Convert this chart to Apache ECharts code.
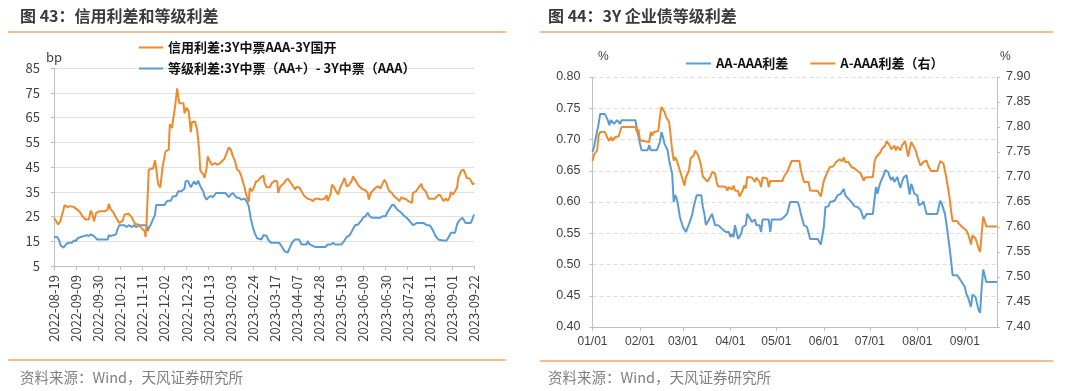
<!DOCTYPE html>
<html>
<head>
<meta charset="utf-8">
<script src="https://cdn.jsdelivr.net/npm/echarts@6/dist/echarts.min.js"></script>
<style>
html,body{margin:0;padding:0;background:#fff;}
#c{width:1080px;height:391px;}
</style>
</head>
<body>
<div id="c"></div>
<script>
// ---------- Chart 43 (left): daily categories from 2022-08-19 to 2023-09-22 ----------
const leftStart = '2022-08-19';
const leftDayCount = 400;
const leftYTicks = {min: 5, max: 85, step: 10};
const creditName = '信用利差:3Y中票AAA-3Y国开';
const gradeName = '等级利差:3Y中票（AA+）- 3Y中票（AAA）';
// [day offset from 2022-08-19, bp]
const creditSpread = [[0,24.5],[4,21.8],[6,23.1],[9,27.8],[10,29.6],[13,28.8],[15,29.2],[19,28.8],[24,27.1],[27,25.1],[30,23.8],[33,23.8],[35,27.4],[36,26.5],[38,23.1],[40,26.5],[43,27.1],[48,27.1],[51,27.8],[52,30.1],[54,27.8],[56,26.9],[59,24.5],[62,22.4],[65,23.1],[67,25.8],[71,26.1],[74,24.5],[77,22.0],[80,21.8],[83,20.4],[86,19.1],[87,16.7],[88,23.1],[90,43.9],[92,44.3],[94,44.3],[96,47.7],[97,44.6],[99,37.9],[101,36.8],[103,44.6],[105,49.3],[106,51.3],[109,52.0],[110,62.3],[112,60.7],[113,60.4],[115,69.4],[117,76.8],[119,70.8],[120,71.2],[123,70.8],[124,66.7],[126,69.0],[128,67.4],[130,59.1],[131,63.1],[134,63.4],[136,60.0],[138,51.3],[139,43.5],[142,41.9],[143,40.6],[145,44.6],[146,49.3],[148,47.3],[150,45.9],[153,46.6],[155,45.9],[158,46.6],[162,48.4],[164,50.6],[166,52.9],[168,52.0],[170,49.3],[172,47.3],[174,43.9],[176,43.3],[178,41.2],[181,36.8],[183,33.2],[185,30.9],[186,36.5],[188,35.2],[190,36.8],[192,39.2],[194,39.5],[196,40.6],[199,41.6],[200,38.6],[202,36.8],[205,36.8],[207,38.6],[210,39.5],[212,39.2],[213,34.5],[215,37.2],[218,38.2],[220,39.5],[222,40.3],[224,39.2],[226,37.9],[229,35.9],[230,36.8],[233,36.8],[236,34.5],[238,33.2],[241,32.2],[244,31.8],[246,31.2],[248,32.2],[251,32.2],[254,31.8],[257,32.2],[259,33.6],[260,31.2],[263,34.5],[264,37.9],[266,36.8],[268,35.2],[270,33.9],[272,36.8],[274,38.6],[276,40.6],[278,37.2],[280,37.6],[283,39.5],[284,41.2],[287,39.2],[289,37.6],[292,36.3],[294,35.9],[296,35.5],[298,34.5],[299,31.8],[301,34.5],[303,35.5],[306,36.8],[308,37.2],[310,36.3],[312,38.2],[314,39.9],[316,38.2],[318,35.5],[321,34.5],[323,33.2],[326,32.2],[328,31.2],[330,32.8],[332,32.2],[334,32.2],[336,31.4],[338,30.9],[340,30.5],[341,34.5],[344,35.2],[346,36.5],[349,38.2],[350,36.5],[353,35.2],[356,32.2],[359,32.2],[362,32.2],[364,33.2],[366,33.9],[368,32.8],[370,31.2],[372,32.2],[374,31.4],[376,32.8],[377,34.9],[379,33.9],[381,35.2],[383,36.8],[384,40.6],[387,43.5],[389,43.9],[391,41.9],[392,40.6],[395,40.3],[396,39.5],[398,37.9],[399,38.6]];
const gradeSpread = [[0,16.7],[3,16.7],[5,15.3],[6,13.5],[9,12.4],[10,11.7],[12,14.0],[14,14.4],[17,14.4],[19,15.3],[21,15.1],[22,16.1],[25,16.7],[29,17.1],[31,17.5],[33,17.1],[35,17.8],[38,17.1],[41,15.7],[46,15.7],[51,15.7],[52,17.5],[54,17.1],[57,17.5],[59,17.8],[60,19.4],[62,21.5],[65,21.5],[67,21.5],[69,20.7],[71,21.5],[74,20.7],[76,21.5],[78,20.7],[81,21.5],[86,21.5],[88,21.5],[89,19.1],[90,20.4],[92,21.8],[94,23.8],[96,25.8],[97,29.6],[100,29.6],[105,29.6],[106,30.5],[108,31.4],[111,31.4],[113,33.2],[116,33.2],[118,35.2],[121,35.2],[124,36.3],[125,39.2],[127,39.5],[128,39.5],[130,36.8],[131,36.8],[133,39.2],[135,37.9],[137,39.5],[139,37.2],[142,34.9],[143,33.2],[145,31.8],[147,32.8],[149,33.2],[151,32.8],[154,34.5],[157,34.5],[160,34.5],[163,34.5],[166,32.8],[168,33.9],[170,34.5],[173,32.8],[176,32.5],[178,31.8],[181,32.2],[183,31.2],[185,29.2],[187,24.0],[189,20.5],[191,18.0],[193,16.2],[197,15.7],[199,17.5],[202,17.1],[204,15.3],[206,14.4],[210,14.4],[214,14.4],[216,13.1],[219,11.0],[222,10.4],[224,12.4],[226,14.4],[229,15.7],[233,15.7],[235,13.7],[240,13.7],[241,15.1],[243,13.7],[248,12.7],[251,12.7],[254,12.7],[258,12.7],[260,13.7],[263,13.7],[265,14.4],[267,13.7],[271,13.7],[273,13.7],[276,15.3],[278,16.7],[281,17.5],[283,19.1],[286,21.5],[289,21.8],[292,23.4],[294,24.7],[296,25.1],[298,26.5],[300,25.1],[302,24.5],[307,24.5],[310,24.5],[312,25.1],[315,25.1],[317,26.9],[319,28.2],[321,29.6],[323,29.6],[326,27.8],[327,27.1],[330,26.5],[332,25.5],[335,24.5],[338,23.1],[341,21.5],[345,22.4],[348,22.4],[351,22.4],[354,21.5],[357,21.5],[360,19.4],[362,17.5],[365,15.7],[369,15.3],[373,15.3],[375,16.7],[377,18.4],[381,18.4],[383,22.0],[385,23.4],[388,24.5],[389,23.8],[391,22.4],[394,22.4],[396,22.4],[398,24.5],[399,25.8]];

// ---------- Chart 44 (right): daily categories from 2023-01-01 to 2023-09-22 ----------
const rightStart = '2023-01-01';
const rightDayCount = 265;
const aaName = 'AA-AAA利差';
const aName = 'A-AAA利差（右）';
// [day offset from 2023-01-01, %]
const aaSpread = [[0,0.680],[1,0.688],[2,0.701],[3,0.699],[4,0.725],[5,0.741],[8,0.741],[10,0.731],[11,0.723],[12,0.731],[14,0.725],[15,0.723],[16,0.731],[18,0.725],[19,0.731],[28,0.731],[29,0.717],[31,0.693],[32,0.683],[36,0.683],[37,0.691],[38,0.683],[42,0.683],[44,0.696],[45,0.712],[46,0.704],[47,0.693],[49,0.683],[50,0.667],[52,0.645],[53,0.600],[54,0.611],[55,0.605],[56,0.592],[57,0.576],[59,0.560],[61,0.552],[62,0.555],[63,0.565],[65,0.579],[66,0.592],[67,0.592],[68,0.611],[71,0.611],[72,0.592],[73,0.581],[74,0.563],[75,0.563],[76,0.572],[78,0.581],[79,0.581],[80,0.563],[82,0.563],[83,0.560],[85,0.556],[87,0.552],[88,0.549],[89,0.552],[90,0.544],[91,0.549],[92,0.544],[93,0.563],[94,0.563],[95,0.541],[97,0.549],[98,0.560],[100,0.563],[101,0.581],[103,0.573],[104,0.568],[105,0.565],[106,0.572],[107,0.563],[109,0.563],[110,0.552],[111,0.572],[115,0.572],[116,0.552],[117,0.572],[123,0.572],[125,0.576],[127,0.581],[129,0.600],[134,0.600],[135,0.592],[136,0.581],[138,0.563],[139,0.563],[140,0.560],[142,0.541],[147,0.541],[148,0.536],[149,0.532],[151,0.560],[152,0.592],[153,0.592],[154,0.593],[155,0.600],[158,0.602],[160,0.611],[162,0.613],[163,0.614],[164,0.621],[165,0.611],[167,0.605],[169,0.600],[171,0.593],[173,0.592],[175,0.587],[177,0.573],[178,0.576],[179,0.581],[183,0.581],[184,0.603],[185,0.624],[186,0.613],[187,0.624],[188,0.632],[190,0.643],[191,0.651],[193,0.648],[194,0.640],[195,0.635],[196,0.640],[197,0.632],[199,0.640],[200,0.629],[201,0.623],[202,0.632],[203,0.639],[205,0.643],[206,0.627],[207,0.612],[208,0.629],[209,0.623],[210,0.613],[212,0.611],[213,0.595],[215,0.597],[216,0.601],[217,0.602],[218,0.581],[225,0.581],[226,0.592],[227,0.602],[228,0.597],[230,0.581],[231,0.565],[233,0.528],[234,0.507],[235,0.483],[238,0.483],[239,0.480],[241,0.472],[242,0.472],[243,0.464],[244,0.453],[245,0.448],[246,0.440],[247,0.432],[248,0.452],[249,0.452],[250,0.448],[251,0.437],[252,0.427],[253,0.423],[254,0.464],[255,0.492],[256,0.492],[257,0.472],[264,0.472]];
const aSpread = [[0,7.732],[1,7.745],[2,7.741],[3,7.753],[4,7.783],[5,7.790],[8,7.790],[10,7.777],[11,7.772],[12,7.780],[13,7.773],[15,7.780],[16,7.777],[17,7.781],[18,7.781],[19,7.800],[28,7.800],[29,7.790],[30,7.795],[31,7.773],[37,7.770],[38,7.790],[39,7.783],[40,7.790],[43,7.792],[44,7.820],[45,7.840],[47,7.830],[48,7.820],[50,7.810],[51,7.783],[52,7.753],[53,7.733],[54,7.739],[55,7.733],[56,7.723],[58,7.703],[60,7.683],[61,7.700],[63,7.713],[64,7.737],[66,7.743],[67,7.753],[69,7.743],[70,7.733],[71,7.720],[72,7.701],[73,7.699],[75,7.691],[77,7.701],[78,7.710],[80,7.707],[81,7.690],[82,7.681],[85,7.681],[87,7.680],[88,7.673],[89,7.680],[90,7.677],[91,7.675],[92,7.683],[93,7.673],[95,7.672],[96,7.661],[98,7.673],[99,7.683],[100,7.677],[101,7.700],[104,7.699],[105,7.695],[106,7.690],[107,7.699],[109,7.690],[110,7.680],[111,7.699],[114,7.697],[115,7.680],[116,7.692],[124,7.692],[125,7.701],[127,7.710],[128,7.713],[130,7.732],[135,7.732],[136,7.713],[138,7.690],[141,7.690],[142,7.673],[147,7.672],[148,7.670],[149,7.661],[151,7.693],[152,7.700],[153,7.708],[155,7.720],[157,7.721],[159,7.730],[161,7.735],[163,7.732],[164,7.739],[165,7.730],[167,7.730],[169,7.720],[171,7.717],[173,7.712],[175,7.707],[177,7.693],[178,7.699],[183,7.700],[184,7.730],[185,7.739],[186,7.737],[188,7.750],[189,7.757],[191,7.763],[192,7.772],[194,7.763],[195,7.755],[196,7.757],[197,7.763],[198,7.753],[199,7.761],[200,7.757],[201,7.753],[202,7.763],[204,7.772],[205,7.773],[206,7.741],[207,7.741],[208,7.770],[209,7.770],[210,7.759],[211,7.753],[212,7.741],[213,7.739],[214,7.723],[216,7.730],[218,7.733],[219,7.723],[221,7.712],[225,7.712],[226,7.723],[227,7.732],[229,7.727],[230,7.713],[231,7.697],[233,7.660],[234,7.633],[235,7.612],[238,7.612],[239,7.607],[241,7.601],[242,7.601],[244,7.593],[245,7.587],[246,7.577],[247,7.565],[248,7.583],[249,7.583],[250,7.577],[251,7.567],[252,7.557],[253,7.550],[254,7.587],[255,7.621],[256,7.620],[257,7.601],[264,7.601]];

// ---------- helpers ----------
function dateRange(start, count) {
  const t0 = Date.parse(start + 'T00:00:00Z');
  const out = [];
  for (let i = 0; i < count; i++) out.push(new Date(t0 + i * 86400000).toISOString().slice(0, 10));
  return out;
}
const leftDates = dateRange(leftStart, leftDayCount);
const rightDates = dateRange(rightStart, rightDayCount);
const monthStart = (idx, val) => val.slice(8) === '01';

const ORANGE = '#EE8A2E';
const BLUE = '#5B9BD5';
const CJK = '"Noto Sans CJK SC", sans-serif';
const AXIS = '#bfbfbf';

const chart = echarts.init(document.getElementById('c'), null, {renderer: 'canvas'});
chart.setOption({
  animation: false,
  backgroundColor: '#fff',
  grid: [
    {left: 54, top: 68, width: 420, height: 198},
    {left: 592.5, top: 77, width: 404.5, height: 250}
  ],
  legend: [
    {
      data: [creditName, gradeName], orient: 'vertical', left: 134, top: 36,
      icon: 'rect', itemWidth: 24, itemHeight: 2, itemGap: 8,
      textStyle: {fontSize: 13, fontWeight: 'bold', color: '#111', fontFamily: CJK}
    },
    {
      data: [aaName, aName], orient: 'horizontal', left: 681, top: 52,
      icon: 'rect', itemWidth: 25, itemHeight: 2, itemGap: 22,
      textStyle: {fontSize: 13, fontWeight: 'bold', color: '#111', fontFamily: CJK}
    }
  ],
  xAxis: [
    {
      gridIndex: 0, type: 'category', data: leftDates, boundaryGap: false,
      axisLine: {lineStyle: {color: AXIS}},
      axisTick: {interval: 20, length: 4, lineStyle: {color: AXIS}},
      axisLabel: {interval: 20, rotate: 90, margin: 9, fontSize: 13, color: '#404040', fontFamily: CJK}
    },
    {
      gridIndex: 1, type: 'category', data: rightDates, boundaryGap: false,
      axisLine: {lineStyle: {color: AXIS}},
      axisTick: {interval: monthStart, length: 4, lineStyle: {color: AXIS}},
      axisLabel: {interval: monthStart, margin: 9, fontSize: 12, color: '#404040', fontFamily: '"Liberation Sans", Arial, sans-serif',
        formatter: v => v.slice(5, 7) + '/' + v.slice(8)}
    }
  ],
  yAxis: [
    {
      gridIndex: 0, type: 'value', min: leftYTicks.min, max: leftYTicks.max, interval: leftYTicks.step,
      axisLine: {show: true, lineStyle: {color: AXIS}},
      axisTick: {show: true, length: 3, lineStyle: {color: AXIS}},
      axisLabel: {margin: 14, fontSize: 13, color: '#404040', fontFamily: CJK},
      splitLine: {lineStyle: {color: '#e0e0e0', width: 1}}
    },
    {
      gridIndex: 1, type: 'value', min: 0.4, max: 0.8, interval: 0.05,
      axisLine: {show: true, lineStyle: {color: AXIS}},
      axisTick: {show: true, length: 3, lineStyle: {color: AXIS}},
      axisLabel: {margin: 12, fontSize: 12.5, color: '#404040', fontFamily: '"Liberation Sans", Arial, sans-serif',
        formatter: v => v.toFixed(2)},
      splitLine: {lineStyle: {color: '#dcdcdc', type: [4, 3], width: 1}}
    },
    {
      gridIndex: 1, type: 'value', position: 'right', min: 7.4, max: 7.9, interval: 0.05,
      axisLine: {show: true, lineStyle: {color: AXIS}},
      axisTick: {show: true, length: 3, lineStyle: {color: AXIS}},
      axisLabel: {margin: 9, fontSize: 12.5, color: '#404040', fontFamily: '"Liberation Sans", Arial, sans-serif',
        formatter: v => v.toFixed(2)},
      splitLine: {show: false}
    }
  ],
  series: [
    {name: gradeName, type: 'line', xAxisIndex: 0, yAxisIndex: 0, data: gradeSpread,
      showSymbol: false, color: BLUE, lineStyle: {width: 2, color: BLUE}},
    {name: creditName, type: 'line', xAxisIndex: 0, yAxisIndex: 0, data: creditSpread,
      showSymbol: false, color: ORANGE, lineStyle: {width: 2, color: ORANGE}},
    {name: aaName, type: 'line', xAxisIndex: 1, yAxisIndex: 1, data: aaSpread,
      showSymbol: false, color: BLUE, lineStyle: {width: 2, color: BLUE}},
    {name: aName, type: 'line', xAxisIndex: 1, yAxisIndex: 2, data: aSpread,
      showSymbol: false, color: ORANGE, lineStyle: {width: 2, color: ORANGE}}
  ],
  graphic: [
    {type: 'text', x: 20, y: 16, style: {text: '图 43：信用利差和等级利差', font: 'bold 16px ' + CJK, fill: '#3a3a3a', verticalAlign: 'middle'}},
    {type: 'text', x: 548, y: 16, style: {text: '图 44：3Y 企业债等级利差', font: 'bold 16px ' + CJK, fill: '#3a3a3a', verticalAlign: 'middle'}},
    {type: 'line', shape: {x1: 8, y1: 32, x2: 506, y2: 32}, style: {stroke: '#F2A868', lineWidth: 1.5}},
    {type: 'line', shape: {x1: 540, y1: 32, x2: 1053, y2: 32}, style: {stroke: '#F2A868', lineWidth: 1.5}},
    {type: 'line', shape: {x1: 8, y1: 360, x2: 506, y2: 360}, style: {stroke: '#F2A868', lineWidth: 1.5}},
    {type: 'line', shape: {x1: 540, y1: 361, x2: 1053, y2: 361}, style: {stroke: '#F2A868', lineWidth: 1.5}},
    {type: 'text', x: 20, y: 377, style: {text: '资料来源：Wind，天风证券研究所', font: '14.5px ' + CJK, fill: '#808080', verticalAlign: 'middle'}},
    {type: 'text', x: 548, y: 377, style: {text: '资料来源：Wind，天风证券研究所', font: '14.5px ' + CJK, fill: '#808080', verticalAlign: 'middle'}},
    {type: 'text', x: 46, y: 57, style: {text: 'bp', font: '13px ' + CJK, fill: '#404040', verticalAlign: 'middle'}},
    {type: 'text', x: 598, y: 57, style: {text: '%', font: '12px "Liberation Sans", Arial, sans-serif', fill: '#404040', verticalAlign: 'middle'}},
    {type: 'text', x: 1000, y: 57, style: {text: '%', font: '12px "Liberation Sans", Arial, sans-serif', fill: '#404040', verticalAlign: 'middle'}}
  ]
});
</script>
</body>
</html>
